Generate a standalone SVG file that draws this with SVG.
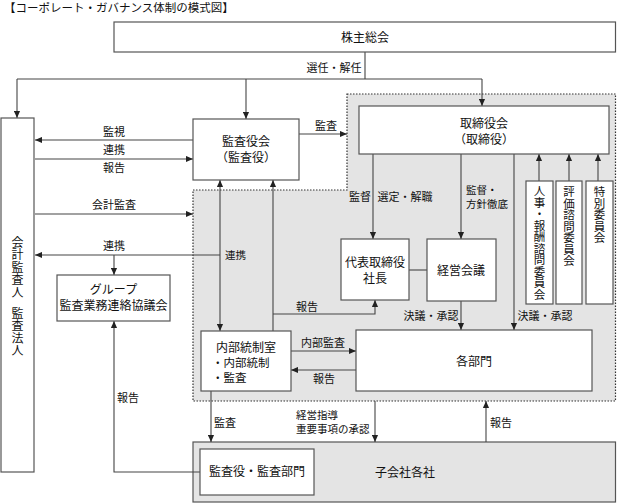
<svg xmlns="http://www.w3.org/2000/svg" width="617" height="503" viewBox="0 0 617 503">
<style>
text{font-family:"Noto Sans CJK JP","Noto Sans CJK SC",sans-serif;fill:#111}
.t{font-size:11.5px}
.n{font-size:12px;text-anchor:middle}
.l{font-size:11px;text-anchor:middle}
.ls{font-size:10.5px}
.box{fill:#fff;stroke:#555;stroke-width:1.2}
.ln{fill:none;stroke:#444;stroke-width:1.1}
.v{font-size:11.5px;text-anchor:middle}
.vl{font-size:12px;text-anchor:middle}
</style>
<defs>
<marker id="a" viewBox="0 0 8 8" refX="8" refY="4" markerWidth="7" markerHeight="7" markerUnits="userSpaceOnUse" orient="auto-start-reverse"><path d="M0,0.5L8,4L0,7.5z" fill="#222"/></marker>
</defs>
<rect width="617" height="503" fill="#fff"/>
<text class="t" x="4" y="12">【コーポレート・ガバナンス体制の模式図】</text>

<g id="region">
<path d="M347,94H615.5V401H193V190H347Z" fill="#e4e4e4" stroke="#333" stroke-width="1.2" stroke-dasharray="1.5 1.5"/>
</g>
<g id="subsidiaries">
<rect x="193" y="442" width="422.5" height="60" fill="#e4e4e4" stroke="#555" stroke-width="1.2"/>
<text class="n" x="405" y="477">子会社各社</text>
</g>

<g id="connectors">
<path class="ln" d="M365,52V79M17,79H482"/>
<path class="ln" d="M17,79V118" marker-end="url(#a)"/>
<path class="ln" d="M246,79V119" marker-end="url(#a)"/>
<path class="ln" d="M482,79V106" marker-end="url(#a)"/>
<path class="ln" d="M193,140H35" marker-end="url(#a)"/>
<path class="ln" d="M35,159H193" marker-end="url(#a)"/>
<path class="ln" d="M35,214H193" marker-end="url(#a)"/>
<path class="ln" d="M220,255H35" marker-end="url(#a)"/>
<path class="ln" d="M114,255V275" marker-end="url(#a)"/>
<path class="ln" d="M299,134H347" marker-end="url(#a)"/>
<path class="ln" d="M373,154V239" marker-end="url(#a)"/>
<path class="ln" d="M461,154V239" marker-end="url(#a)"/>
<path class="ln" d="M514,154V330" marker-end="url(#a)"/>
<path class="ln" d="M539,181V154" marker-end="url(#a)"/>
<path class="ln" d="M569,181V154" marker-end="url(#a)"/>
<path class="ln" d="M598,181V154" marker-end="url(#a)"/>
<path class="ln" d="M409,270H427"/>
<path class="ln" d="M461,301V330" marker-end="url(#a)"/>
<path class="ln" d="M220,180V331" marker-start="url(#a)" marker-end="url(#a)"/>
<path class="ln" d="M273,331V180" marker-end="url(#a)"/>
<path class="ln" d="M273,314H375V300" marker-end="url(#a)"/>
<path class="ln" d="M291,351H356" marker-end="url(#a)"/>
<path class="ln" d="M356,370H291" marker-end="url(#a)"/>
<path class="ln" d="M211,391V442" marker-end="url(#a)"/>
<path class="ln" d="M375,401V442" marker-end="url(#a)"/>
<path class="ln" d="M486,442V401" marker-end="url(#a)"/>
<path class="ln" d="M200,472H114V321" marker-end="url(#a)"/>
<text class="l" x="334" y="71.5">選任・解任</text>
<text class="l" x="114" y="135.5">監視</text>
<text class="l" x="114" y="154">連携</text>
<text class="l" x="114" y="172">報告</text>
<text class="l" x="114" y="209">会計監査</text>
<text class="l" x="114" y="250">連携</text>
<text class="ls" x="225" y="259">連携</text>
<text class="l" x="326" y="130">監査</text>
<text class="l" x="360" y="201">監督</text>
<text class="l" x="405" y="201">選定・解職</text>
<text class="ls" x="466" y="194">監督・</text>
<text class="ls" x="466" y="208">方針徹底</text>
<text class="l" x="307" y="311">報告</text>
<text class="l" x="431" y="320">決議・承認</text>
<text class="l" x="545" y="320">決議・承認</text>
<text class="l" x="323" y="347">内部監査</text>
<text class="l" x="324" y="383">報告</text>
<text class="l" x="225" y="427">監査</text>
<text class="ls" x="296" y="419">経営指導</text>
<text class="ls" x="296" y="433">重要事項の承認</text>
<text class="l" x="501" y="427">報告</text>
<text class="l" x="128" y="402">報告</text>
</g>

<g id="shareholders">
<rect class="box" x="114" y="22" width="501.5" height="30"/>
<text class="n" x="365" y="42">株主総会</text>
</g>
<g id="accounting-auditor">
<rect class="box" x="1" y="118" width="33" height="354"/>
<text class="vl" x="17.5 17.5 17.5 17.5 17.5" y="246.5 259 271.5 284 296.5">会計監査人</text>
<text class="vl" x="17.5 17.5 17.5 17.5" y="317.5 330 342.5 355">監査法人</text>
</g>
<g id="audit-board">
<rect class="box" x="193" y="119" width="106" height="61"/>
<text class="n" x="246" y="146">監査役会</text>
<text class="n" x="246" y="162">（監査役）</text>
</g>
<g id="board">
<rect class="box" x="359" y="106" width="250" height="48"/>
<text class="n" x="484" y="128">取締役会</text>
<text class="n" x="484" y="144">（取締役）</text>
</g>
<g id="president">
<rect class="box" x="341" y="239" width="68" height="61"/>
<text class="n" x="375" y="267">代表取締役</text>
<text class="n" x="375" y="283">社長</text>
</g>
<g id="management-meeting">
<rect class="box" x="427" y="239" width="69" height="62"/>
<text class="n" x="461" y="275">経営会議</text>
</g>
<g id="committee-hr">
<rect class="box" x="526" y="181" width="27" height="123"/>
<text class="v" x="539.5 539.5 539.5 539.5 539.5 539.5 539.5 539.5 539.5 539.5" y="195 206.5 218 229.5 241 252.5 264 275.5 287 298.5">人事・報酬諮問委員会</text>
</g>
<g id="committee-eval">
<rect class="box" x="556" y="181" width="26" height="123"/>
<text class="v" x="569 569 569 569 569 569 569" y="196 207.5 219 230.5 242 253.5 265">評価諮問委員会</text>
</g>
<g id="committee-special">
<rect class="box" x="586" y="181" width="27" height="123"/>
<text class="v" x="599.5 599.5 599.5 599.5 599.5" y="196 207.5 219 230.5 242">特別委員会</text>
</g>
<g id="departments">
<rect class="box" x="356" y="330" width="236" height="61"/>
<text class="n" x="474" y="366">各部門</text>
</g>
<g id="internal-control">
<rect class="box" x="201" y="331" width="90" height="60"/>
<text class="n" x="246" y="352">内部統制室</text>
<text style="font-size:11.5px" x="212" y="367">・内部統制</text>
<text style="font-size:11.5px" x="212" y="382">・監査</text>
</g>
<g id="group-council">
<rect class="box" x="57" y="275" width="113" height="46"/>
<text class="n" x="113.5" y="294">グループ</text>
<text class="n" x="113.5" y="310">監査業務連絡協議会</text>
</g>
<g id="sub-audit">
<rect class="box" x="200" y="449" width="114" height="46"/>
<text class="n" x="257" y="476">監査役・監査部門</text>
</g>
</svg>
